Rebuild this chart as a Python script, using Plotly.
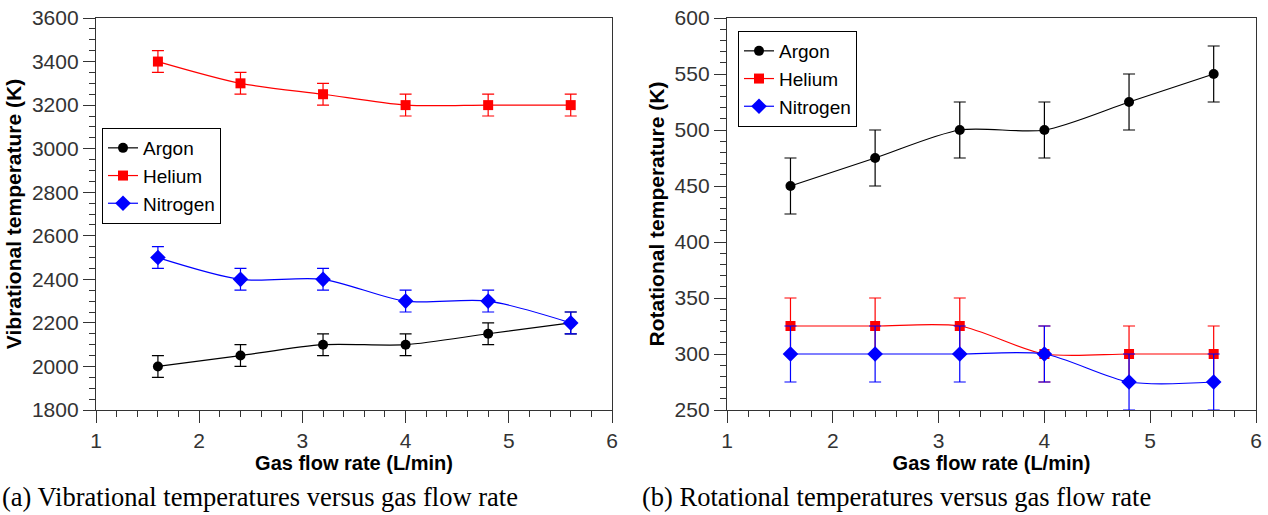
import plotly.graph_objects as go

flow = [1.6, 2.4, 3.2, 4.0, 4.8, 5.6]
series = ["Argon", "Helium", "Nitrogen"]
colors = ["#000000", "#ff0000", "#0000ff"]
symbols = ["circle", "square", "diamond"]
msizes = [10, 10, 12]

vib_argon = [2000, 2050, 2100, 2100, 2150, 2200]
vib_helium = [3400, 3300, 3250, 3200, 3200, 3200]
vib_nitrogen = [2500, 2400, 2400, 2300, 2300, 2200]
vib_err = 50

rot_argon = [450, 475, 500, 500, 525, 550]
rot_helium = [325, 325, 325, 300, 300, 300]
rot_nitrogen = [300, 300, 300, 300, 275, 275]
rot_err = 25

FONT = "Liberation Sans, Arial, sans-serif"
SERIF = "Liberation Serif, Times New Roman, serif"
W, H = 1268, 515

fig = go.Figure()

vib = [vib_argon, vib_helium, vib_nitrogen]
rot = [rot_argon, rot_helium, rot_nitrogen]

for i, name in enumerate(series):
    fig.add_trace(go.Scatter(
        x=flow, y=vib[i], name=name, mode="lines+markers",
        line=dict(color=colors[i], width=1.2, shape="spline", smoothing=0.8),
        marker=dict(symbol=symbols[i], size=msizes[i], color=colors[i]),
        error_y=dict(type="constant", value=vib_err, color=colors[i], thickness=1.2, width=6),
        xaxis="x", yaxis="y", legend="legend",
    ))
for i, name in enumerate(series):
    fig.add_trace(go.Scatter(
        x=flow, y=rot[i], name=name, mode="lines+markers",
        line=dict(color=colors[i], width=1.2, shape="spline", smoothing=0.8),
        marker=dict(symbol=symbols[i], size=msizes[i], color=colors[i]),
        error_y=dict(type="constant", value=rot_err, color=colors[i], thickness=1.2, width=6),
        xaxis="x2", yaxis="y2", legend="legend2",
    ))

def px_x(p):
    return p / W

def px_y(p):
    return 1 - p / H

axis_common = dict(
    showline=True, linecolor="#333333", linewidth=1.3, mirror=True,
    showgrid=False, zeroline=False,
    ticks="outside", ticklen=12, tickwidth=1.2, tickcolor="#333333",
    tickfont=dict(family=FONT, size=21, color="#333333"),
    automargin=False,
)
minor_x = dict(dtick=0.2, ticks="outside", ticklen=6, tickwidth=1.2, tickcolor="#333333")
xtitle_font = dict(family=FONT, size=20, color="#000000")
ytitle_font = dict(family=FONT, size=21, color="#000000")

xdom1 = [px_x(96), px_x(612)]
xdom2 = [px_x(727), px_x(1256)]
ydom = [px_y(410), px_y(18)]

legend_style = dict(xanchor="left", yanchor="top", bgcolor="white",
                    bordercolor="#000000", borderwidth=1,
                    font=dict(family=FONT, size=19, color="#000000"), tracegroupgap=0)

fig.update_layout(
    width=W, height=H,
    margin=dict(l=0, r=0, t=0, b=0),
    paper_bgcolor="white", plot_bgcolor="white",
    font=dict(family=FONT, size=20, color="#000000"),
    xaxis=dict(domain=xdom1, anchor="y", range=[1, 6], dtick=1, minor=minor_x,
               title=dict(text="<b>Gas flow rate (L/min)</b>", font=xtitle_font, standoff=3),
               **axis_common),
    yaxis=dict(domain=ydom, anchor="x", range=[1800, 3600], dtick=200,
               minor=dict(dtick=50, ticks="outside", ticklen=6, tickwidth=1.2, tickcolor="#333333"),
               title=dict(text="<b>Vibrational temperature (K)</b>", font=ytitle_font, standoff=4),
               **axis_common),
    xaxis2=dict(domain=xdom2, anchor="y2", range=[1, 6], dtick=1, minor=minor_x,
                title=dict(text="<b>Gas flow rate (L/min)</b>", font=xtitle_font, standoff=3),
                **axis_common),
    yaxis2=dict(domain=ydom, anchor="x2", range=[250, 600], dtick=50,
                minor=dict(dtick=10, ticks="outside", ticklen=6, tickwidth=1.2, tickcolor="#333333"),
                title=dict(text="<b>Rotational temperature (K)</b>", font=ytitle_font, standoff=4),
                **axis_common),
    legend=dict(x=px_x(102), y=px_y(128), **legend_style),
    legend2=dict(x=px_x(738), y=px_y(31), **legend_style),
    annotations=[
        dict(text="(a) Vibrational temperatures versus gas flow rate", xref="paper", yref="paper",
             x=0, y=px_y(497), xanchor="left", yanchor="middle", showarrow=False,
             font=dict(family=SERIF, size=26.5, color="#000000")),
        dict(text="(b) Rotational temperatures versus gas flow rate", xref="paper", yref="paper",
             x=px_x(640), y=px_y(497), xanchor="left", yanchor="middle", showarrow=False,
             font=dict(family=SERIF, size=26.5, color="#000000")),
    ],
)

fig.write_html("out.html", config={"displayModeBar": False},
               post_script="document.body.style.margin='0px';document.body.style.overflow='hidden';")
